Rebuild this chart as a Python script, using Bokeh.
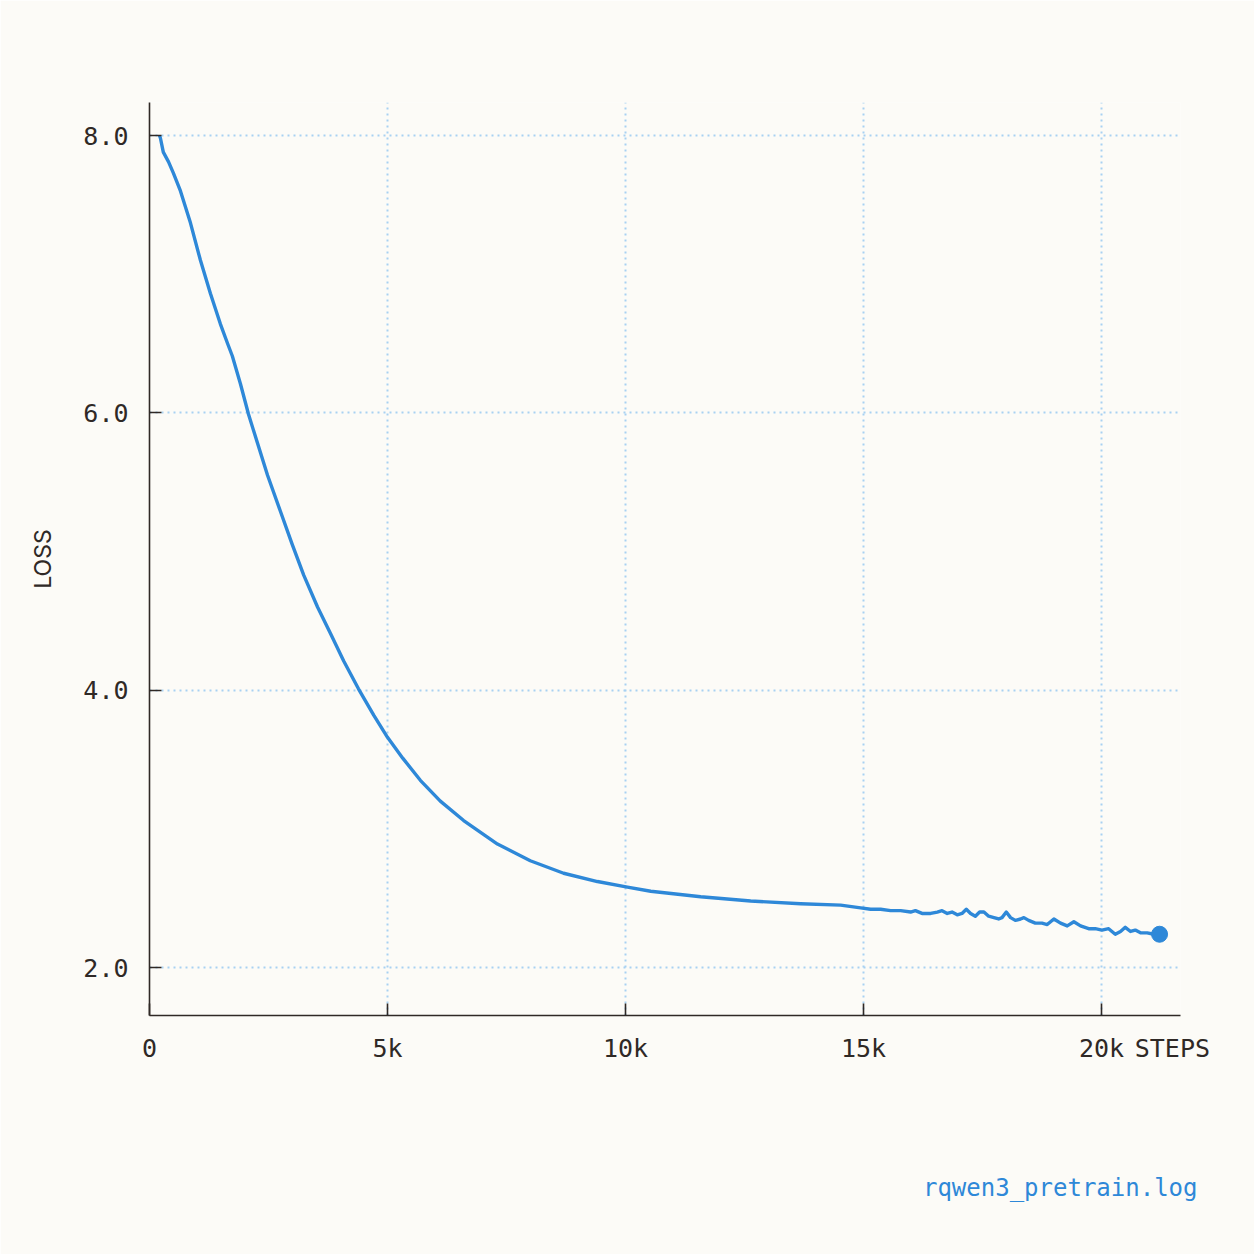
from bokeh.plotting import figure
from bokeh.models import FixedTicker, PrintfTickFormatter, Range1d, Title
from bokeh.embed import file_html
from bokeh.resources import INLINE

# ---- data ----
steps = [210, 230, 290, 400, 500, 650, 860, 1070, 1280, 1490,
         1640, 1740, 1910, 2080, 2270, 2480, 2750, 3000, 3240, 3530,
         3800, 4080, 4390, 4710, 5000, 5320, 5690, 6110, 6600, 7310,
         8000, 8700, 9410, 10040, 10530, 11580, 12630, 13680, 14520, 14940,
         15150, 15360, 15570, 15780, 15990, 16090, 16230, 16410, 16550, 16650,
         16760, 16860, 16970, 17070, 17160, 17250, 17350, 17440, 17530, 17630,
         17740, 17840, 17910, 18000, 18090, 18190, 18300, 18370, 18470, 18610,
         18750, 18860, 19000, 19140, 19280, 19420, 19560, 19730, 19870, 20010,
         20150, 20290, 20400, 20500, 20610, 20710, 20820, 20960, 21100, 21220]
loss = [8.00, 7.98, 7.88, 7.81, 7.73, 7.60, 7.37, 7.10, 6.86, 6.64,
        6.50, 6.41, 6.21, 5.99, 5.78, 5.55, 5.29, 5.05, 4.83, 4.60,
        4.41, 4.21, 4.01, 3.82, 3.66, 3.51, 3.35, 3.20, 3.06, 2.89,
        2.77, 2.68, 2.62, 2.58, 2.55, 2.51, 2.48, 2.46, 2.45, 2.43,
        2.42, 2.42, 2.41, 2.41, 2.40, 2.41, 2.39, 2.39, 2.40, 2.41,
        2.39, 2.40, 2.38, 2.39, 2.42, 2.39, 2.37, 2.40, 2.40, 2.37,
        2.36, 2.35, 2.36, 2.40, 2.36, 2.34, 2.35, 2.36, 2.34, 2.32,
        2.32, 2.31, 2.35, 2.32, 2.30, 2.33, 2.30, 2.28, 2.28, 2.27,
        2.28, 2.24, 2.26, 2.29, 2.26, 2.27, 2.25, 2.25, 2.24, 2.24]
x_ticks = [0, 5000, 10000, 15000, 20000]
x_tick_labels = ["0", "5k", "10k", "15k", "20k"]
y_ticks = [2.0, 4.0, 6.0, 8.0]
x_label = "STEPS"
x_label_pos = 21490
y_label = "LOSS"
footer = "rqwen3_pretrain.log"

BG = "#fcfbf7"
INK = "#2f2926"
BLUE = "#2e88d8"
GRID = "#a8d1f2"
MONO = "DejaVu Sans Mono"
SANS = "Inter"
Y0, Y1 = 1.654, 8.238

p = figure(width=1254, height=1254, output_backend="svg", toolbar_location=None,
           x_range=Range1d(0, 21660), y_range=Range1d(Y0, Y1),
           min_border_left=149, min_border_right=74, min_border_top=102,
           min_border_bottom=239)
p.background_fill_color = BG
p.border_fill_color = BG
p.outline_line_color = None

# line + end point
p.line(steps, loss, line_color=BLUE, line_width=3.4, line_join="round")
p.scatter([steps[-1]], [loss[-1]], size=16, color=BLUE)

# x axis: tick marks drawn as (minor) ticks at the tick values, labels incl. the "STEPS" name
xa = p.xaxis[0]
xa.ticker = FixedTicker(ticks=x_ticks + [x_label_pos], minor_ticks=x_ticks)
overrides = {t: l for t, l in zip(x_ticks, x_tick_labels)}
overrides[x_label_pos] = x_label
xa.major_label_overrides = overrides
xa.major_tick_line_color = None
xa.major_tick_in = 0
xa.major_tick_out = 0
xa.minor_tick_line_color = INK
xa.minor_tick_line_width = 1.6
xa.minor_tick_in = 12
xa.minor_tick_out = 0

ya = p.yaxis[0]
ya.ticker = FixedTicker(ticks=y_ticks)
ya.formatter = PrintfTickFormatter(format="%.1f")
ya.major_tick_line_color = INK
ya.major_tick_line_width = 1.6
ya.major_tick_out = 0
ya.major_tick_in = 12
ya.minor_tick_line_color = None

for ax in (xa, ya):
    ax.axis_line_color = INK
    ax.axis_line_width = 1.6
    ax.major_label_text_font = MONO
    ax.major_label_text_font_size = "25px"
    ax.major_label_text_color = INK
xa.major_label_standoff = 18
ya.major_label_standoff = 21
ya.axis_label = y_label
ya.axis_label_text_font = SANS
ya.axis_label_text_font_style = "normal"
ya.axis_label_text_font_size = "23px"
ya.axis_label_text_color = INK
ya.axis_label_standoff = 23

# grids
p.xgrid.ticker = FixedTicker(ticks=x_ticks[1:])
p.ygrid.ticker = FixedTicker(ticks=y_ticks)
for g in (p.xgrid[0], p.ygrid[0]):
    g.grid_line_color = GRID
    g.grid_line_width = 2
    g.grid_line_dash = "2 4"

# blank spacer between the x axis and the footer, then the footer
p.add_layout(Title(text=" ", text_font_size="10px", standoff=43), "below")
p.add_layout(Title(text=footer, align="right", text_font=MONO,
                   text_font_size="24px", text_color=BLUE,
                   text_font_style="normal", standoff=100, offset=-17),
             "below")

html = file_html(p, INLINE, title="loss")
html = html.replace("<body>", '<body style="background-color:%s;">' % BG, 1)
open("out.html", "w").write(html)
